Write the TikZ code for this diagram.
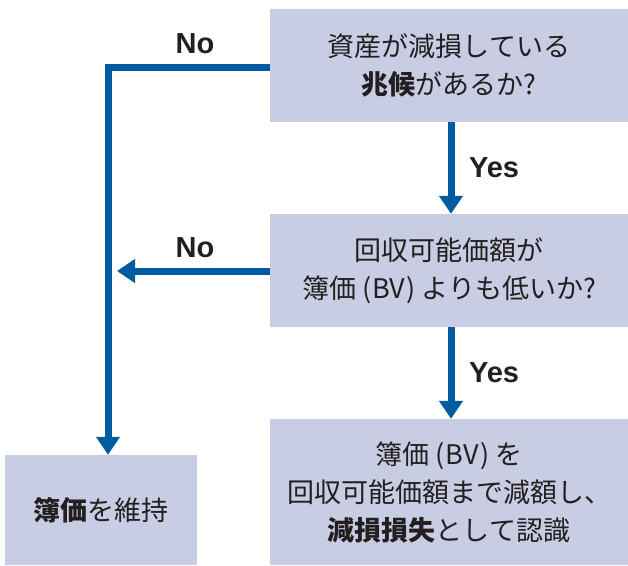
\documentclass[tikz,border=0pt]{standalone}
\usepackage{fontspec}
\setmainfont{Noto Sans CJK JP}
\newfontfamily\lab{Liberation Sans}
\usetikzlibrary{arrows.meta}
\definecolor{boxfill}{HTML}{C8CDE3}
\definecolor{flowblue}{HTML}{005BA0}
\definecolor{txt}{HTML}{231F20}
\newcommand{\bvp}{\hspace{0.22em}(\hspace{0.04em}BV\hspace{0.04em})\hspace{0.22em}}
\tikzset{
  box/.style={fill=boxfill, draw=none, inner sep=0pt, align=center, text=txt,
    font=\fontsize{27}{38}\selectfont},
  conn/.style={draw=flowblue, line width=7pt},
  arr/.style={conn, -{Triangle[length=18pt,width=23pt]}},
  lbl/.style={text=txt, font=\lab\bfseries\fontsize{29}{32}\selectfont, inner sep=0pt}
}
\begin{document}
\begin{tikzpicture}[x=1pt,y=-1pt]
\useasboundingbox (0,0) rectangle (628,565);
\node[box, minimum width=358pt, minimum height=113pt] (b1) at (449,65.5)
  {資産が減損している\\\textbf{兆候}があるか?};
\node[box, minimum width=358pt, minimum height=113pt] (b2) at (449,270.5)
  {回収可能価額が\\簿価\bvp よりも低いか?};
\node[box, minimum width=358pt, minimum height=146pt] (b3) at (449,492)
  {簿価\bvp を\\回収可能価額まで減額し、\\\textbf{減損損失}として認識};
\node[box, minimum width=192pt, minimum height=110pt] (b4) at (101,510)
  {\textbf{簿価}を維持};
\coordinate (c1) at (108,67);
\coordinate (ax) at (451,0);
\coordinate (t2) at (117,271);
\draw[arr] (b1.west |- c1) -- (c1) -- (c1 |- b4.north);
\draw[arr] (b2.west |- t2) -- (t2);
\draw[arr] (b1.south -| ax) -- (b2.north -| ax);
\draw[arr] (b2.south -| ax) -- (b3.north -| ax);
\node[lbl] (n1) at (195,44) {No};
\node[lbl] (n2) at (195,248) {No};
\node[lbl] (y1) at (494,168) {Yes};
\node[lbl] (y2) at (494,373) {Yes};
\end{tikzpicture}
\end{document}
